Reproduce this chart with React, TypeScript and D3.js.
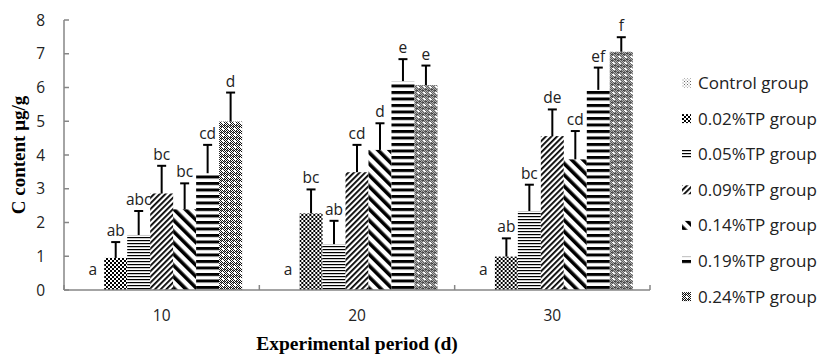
import React from 'react'
import { scaleBand, scaleLinear } from 'd3'

const periods = ['10', '20', '30']
const groups = [
  'Control group',
  '0.02%TP group',
  '0.05%TP group',
  '0.09%TP group',
  '0.14%TP group',
  '0.19%TP group',
  '0.24%TP group',
]
// mean per group, one row per period
const means10 = [0, 0.95, 1.63, 2.86, 2.39, 3.46, 4.99]
const means20 = [0, 2.27, 1.36, 3.49, 4.15, 6.19, 6.07]
const means30 = [0, 0.99, 2.34, 4.56, 3.87, 5.93, 7.06]
// standard deviations (upper error bar only)
const sd10 = [0, 0.47, 0.71, 0.82, 0.77, 0.84, 0.86]
const sd20 = [0, 0.71, 0.69, 0.81, 0.79, 0.65, 0.58]
const sd30 = [0, 0.54, 0.78, 0.79, 0.84, 0.66, 0.43]
// significance letters
const letters10 = ['a', 'ab', 'abc', 'bc', 'bc', 'cd', 'd']
const letters20 = ['a', 'bc', 'ab', 'cd', 'd', 'e', 'e']
const letters30 = ['a', 'ab', 'bc', 'de', 'cd', 'ef', 'f']
const yTicks = [0, 1, 2, 3, 4, 5, 6, 7, 8]

const means = [means10, means20, means30]
const sds = [sd10, sd20, sd30]
const letters = [letters10, letters20, letters30]

const width = 820
const height = 354
const plot = { left: 64, right: 650, top: 20, bottom: 290 }
const axisColor = '#868686'
const sans = "'Open Sans', 'Noto Sans', sans-serif"
const serif = "'Liberation Serif', 'Times New Roman', serif"

const patternIds = ['pCtrl', 'pChk', 'pHThin', 'pUp', 'pDown', 'pHWide', 'pGrid']

// checker cells for the 0.24% fill, white hole in the middle
const gridCells: number[][] = []
for (let r = 0; r < 6; r++) {
  for (let c = 0; c < 6; c++) {
    if ((r + c) % 2 === 0 && !(r >= 2 && r <= 3 && c >= 2 && c <= 3)) gridCells.push([c, r])
  }
}

function Patterns() {
  return (
    <defs>
      <pattern id="pCtrl" width="3" height="3" patternUnits="userSpaceOnUse">
        <rect width="3" height="3" fill="#fff" />
        <rect x="0" y="0" width="1" height="1" fill="#666" />
        <rect x="1.5" y="1.5" width="1" height="1" fill="#888" />
      </pattern>
      <pattern id="pChk" width="4" height="4" patternUnits="userSpaceOnUse">
        <rect width="4" height="4" fill="#fff" />
        <rect x="0" y="0" width="2" height="2" fill="#000" />
        <rect x="2" y="2" width="2" height="2" fill="#000" />
      </pattern>
      <pattern id="pHThin" width="4" height="3" patternUnits="userSpaceOnUse">
        <rect width="4" height="3" fill="#fff" />
        <rect x="0" y="0" width="4" height="1.2" fill="#000" />
      </pattern>
      <pattern id="pUp" width="4" height="4" patternUnits="userSpaceOnUse" patternTransform="rotate(45)">
        <rect width="4" height="4" fill="#fff" />
        <rect x="0" y="0" width="1.8" height="4" fill="#000" />
      </pattern>
      <pattern id="pDown" width="8" height="8" patternUnits="userSpaceOnUse" patternTransform="rotate(-45)">
        <rect width="8" height="8" fill="#fff" />
        <rect x="0" y="0" width="3.6" height="8" fill="#000" />
      </pattern>
      <pattern id="pHWide" width="4" height="6.5" patternUnits="userSpaceOnUse">
        <rect width="4" height="6.5" fill="#fff" />
        <rect x="0" y="0" width="4" height="3" fill="#000" />
      </pattern>
      <pattern id="pGrid" width="6" height="6" patternUnits="userSpaceOnUse">
        <rect width="6" height="6" fill="#fff" />
        {gridCells.map(([c, r]) => (
          <rect key={`${c}-${r}`} x={c} y={r} width="1" height="1" fill="#111" />
        ))}
        <rect x="1" y="0" width="1" height="1" fill="#777" />
        <rect x="4" y="5" width="1" height="1" fill="#777" />
      </pattern>
    </defs>
  )
}

export default function App() {
  const x0 = scaleBand().domain(periods).range([plot.left, plot.right]).padding(0)
  const x1 = scaleBand().domain(groups).range([0, x0.bandwidth()]).paddingInner(0).paddingOuter(0.75)
  const y = scaleLinear().domain([0, 8]).range([plot.bottom, plot.top])
  const bw = x1.bandwidth()

  const boundaries = [plot.left, ...periods.map((p) => (x0(p) as number) + x0.bandwidth())]

  return (
    <svg width={width} height={height} style={{ position: 'absolute', left: 0, top: 0, background: '#fff' }}>
      <Patterns />

      {/* bars */}
      {periods.map((p, pi) => (
        <g key={p} transform={`translate(${x0(p)},0)`}>
          {groups.map((g, gi) => {
            const v = means[pi][gi]
            const e = sds[pi][gi]
            const bx = x1(g) as number
            const cx = bx + bw / 2
            const top = y(v + e)
            return (
              <g key={g}>
                {v > 0 && (
                  <rect x={bx} y={y(v)} width={bw} height={y(0) - y(v)} fill={`url(#${patternIds[gi]})`} />
                )}
                {e > 0 && (
                  <g stroke="#000" strokeWidth={2}>
                    <line x1={cx} x2={cx} y1={y(v)} y2={top} />
                    <line x1={cx - 4.5} x2={cx + 4.5} y1={top} y2={top} />
                  </g>
                )}
                <text
                  x={cx}
                  y={v > 0 ? top - 6 : y(0) - 15}
                  textAnchor="middle"
                  fontFamily={sans}
                  fontSize={15.5}
                  fill="#222"
                >
                  {letters[pi][gi]}
                </text>
              </g>
            )
          })}
        </g>
      ))}

      {/* axes */}
      <g stroke={axisColor} strokeWidth={1.5}>
        <line x1={plot.left} x2={plot.left} y1={plot.top} y2={plot.bottom} />
        <line x1={plot.left} x2={plot.right} y1={plot.bottom} y2={plot.bottom} />
        {yTicks.map((t) => (
          <line key={t} x1={plot.left} x2={plot.left + 5} y1={y(t)} y2={y(t)} />
        ))}
        {boundaries.map((b, i) => (
          <line key={i} x1={b} x2={b} y1={plot.bottom} y2={plot.bottom - 5} />
        ))}
      </g>
      {yTicks.map((t) => (
        <text key={t} x={45} y={y(t) + 5.5} textAnchor="end" fontFamily={sans} fontSize={15.5} fill="#222">
          {t}
        </text>
      ))}
      {periods.map((p) => (
        <text
          key={p}
          x={(x0(p) as number) + x0.bandwidth() / 2}
          y={321}
          textAnchor="middle"
          fontFamily={sans}
          fontSize={15.5}
          fill="#222"
        >
          {p}
        </text>
      ))}

      {/* axis titles */}
      <text
        transform={`translate(25,${(plot.top + plot.bottom) / 2}) rotate(-90)`}
        textAnchor="middle"
        fontFamily={serif}
        fontWeight="bold"
        fontSize={19}
        fill="#000"
      >
        C content  μg/g
      </text>
      <text x={357} y={350} textAnchor="middle" fontFamily={serif} fontWeight="bold" fontSize={19.5} fill="#000">
        Experimental period (d)
      </text>

      {/* legend */}
      {groups.map((g, gi) => {
        const ly = 83 + gi * 35.6
        return (
          <g key={g}>
            <rect x={682} y={ly - 4.5} width={9} height={9} fill={`url(#${patternIds[gi]})`} />
            <text x={698} y={ly + 6} fontFamily={sans} fontSize={17} fill="#222">
              {g}
            </text>
          </g>
        )
      })}
    </svg>
  )
}
